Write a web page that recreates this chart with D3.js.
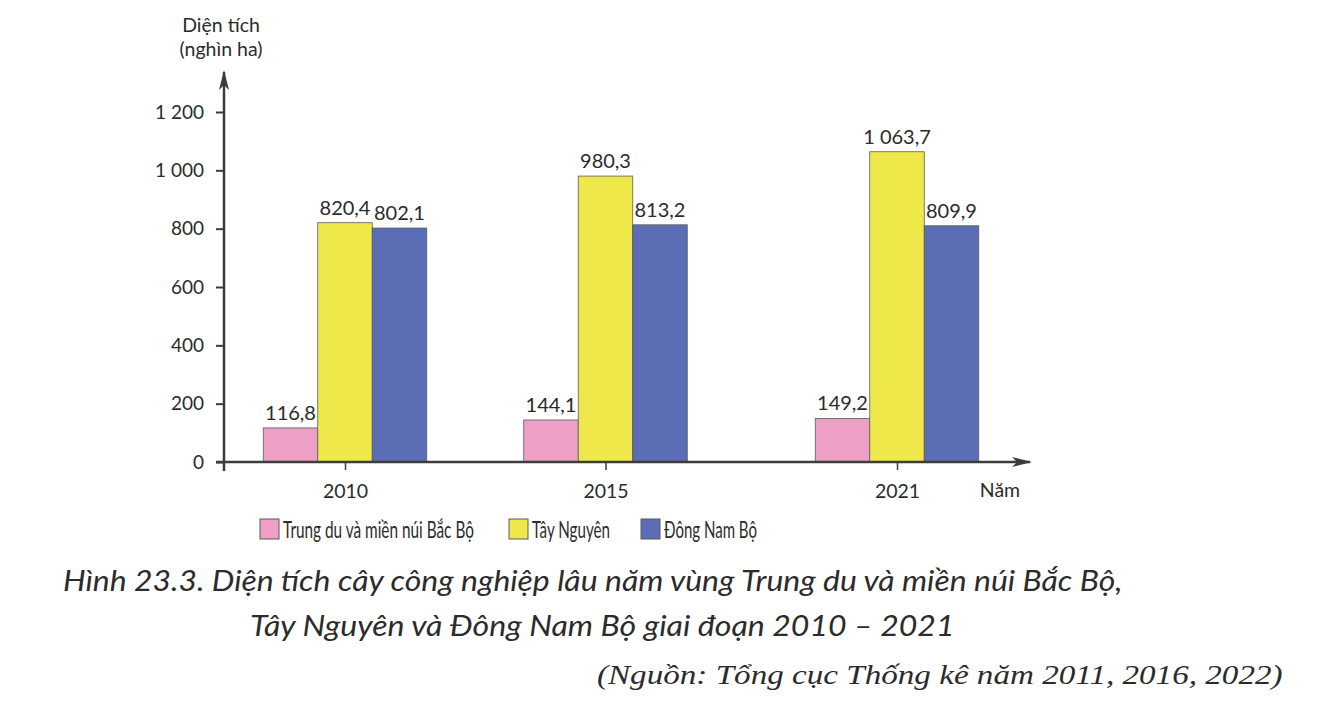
<!DOCTYPE html>
<html><head><meta charset="utf-8">
<script src="https://cdn.jsdelivr.net/npm/d3@7"></script>
<style>
html,body{margin:0;padding:0;background:#fff;}
svg{display:block;}
text{font-family:Lato,"Noto Sans",sans-serif;fill:#2b2b2b;}
text.serif{font-family:"Liberation Serif","Times New Roman",Times,serif;}
</style></head>
<body>
<svg id="c" width="1318" height="713"></svg>
<script>
const years = ["2010", "2015", "2021"];
const seriesNames = ["Trung du và miền núi Bắc Bộ", "Tây Nguyên", "Đông Nam Bộ"];
const trungDu = [116.8, 144.1, 149.2];
const tayNguyen = [820.4, 980.3, 1063.7];
const dongNamBo = [802.1, 813.2, 809.9];
const yTicks = [0, 200, 400, 600, 800, 1000, 1200];
const colors = ["#ee9fc5", "#efe84a", "#5b6eb5"];
const yTitle = ["Diện tích", "(nghìn ha)"];
const xTitle = "Năm";
const caption1 = "Hình 23.3. Diện tích cây công nghiệp lâu năm vùng Trung du và miền núi Bắc Bộ,";
const caption2 = "Tây Nguyên và Đông Nam Bộ giai đoạn 2010 – 2021";
const source = "(Nguồn: Tổng cục Thống kê năm 2011, 2016, 2022)";

const series = [trungDu, tayNguyen, dongNamBo];
const vi = d3.formatLocale({decimal: ",", thousands: " ", grouping: [3], currency: ["", ""]});
const fmtVal = vi.format(",.1f");
const fmtTick = vi.format(",d");

const svg = d3.select("#c");
const axisColor = "#3c3c3c";

const x0 = 224, yBase = 462;
const y = d3.scaleLinear().domain([0, 1200]).range([yBase, 112]);
const x = d3.scaleLinear().domain(years.map(Number)).range([345, 605.5, 897]);
const bw = 54.5;
const xs = d3.scaleBand().domain(d3.range(series.length)).range([-bw * 1.5, bw * 1.5]).padding(0);

// bars
years.forEach((yr, j) => {
  const g = svg.append("g").attr("transform", `translate(${x(+yr)},0)`);
  series.forEach((s, i) => {
    g.append("rect")
      .attr("x", xs(i)).attr("width", xs.bandwidth())
      .attr("y", y(s[j])).attr("height", y(0) - y(s[j]))
      .attr("fill", colors[i]).attr("stroke", "#5a5a5a").attr("stroke-width", 0.8);
    g.append("text")
      .attr("x", xs(i) + xs.bandwidth() / 2).attr("y", y(s[j]) - 8)
      .attr("text-anchor", "middle").style("font-size", "20px")
      .text(fmtVal(s[j]));
  });
});

// y axis
const yAxis = d3.axisLeft(y).tickValues(yTicks).tickFormat(fmtTick).tickSize(8).tickPadding(12);
const yg = svg.append("g").attr("transform", `translate(${x0},0)`).call(yAxis);
yg.select(".domain").remove();
yg.selectAll(".tick line").attr("stroke", axisColor).attr("stroke-width", 2);
yg.selectAll(".tick text").style("font-size", "19px").style("font-family", "Lato").style("fill", "#2b2b2b");

// x axis
const xAxis = d3.axisBottom(x).tickValues(years.map(Number)).tickFormat(d3.format("d")).tickSize(8).tickPadding(14);
const xg = svg.append("g").attr("transform", `translate(0,${yBase})`).call(xAxis);
xg.select(".domain").remove();
xg.selectAll(".tick line").attr("stroke", axisColor).attr("stroke-width", 1.5);
xg.selectAll(".tick text").style("font-size", "19.5px").style("font-family", "Lato").style("fill", "#2b2b2b");

// axis lines with arrows
const defs = svg.append("defs");
defs.append("marker").attr("id", "arr").attr("viewBox", "0 0 20 10").attr("refX", 18).attr("refY", 5)
  .attr("markerWidth", 20).attr("markerHeight", 10).attr("markerUnits", "userSpaceOnUse").attr("orient", "auto")
  .append("path").attr("d", "M0,0 L20,5 L0,10 L5,5 Z").attr("fill", axisColor);
svg.append("line").attr("x1", x0).attr("x2", x0).attr("y1", yBase + 9).attr("y2", 72)
  .attr("stroke", axisColor).attr("stroke-width", 2.5).attr("marker-end", "url(#arr)");
svg.append("line").attr("x1", x0 - 8).attr("x2", 1030).attr("y1", yBase).attr("y2", yBase)
  .attr("stroke", axisColor).attr("stroke-width", 2.5).attr("marker-end", "url(#arr)");

// axis titles
svg.append("text").attr("x", 221).attr("y", 32).attr("text-anchor", "middle").style("font-size", "19.5px").text(yTitle[0]);
svg.append("text").attr("x", 221).attr("y", 56).attr("text-anchor", "middle").style("font-size", "19.5px").text(yTitle[1]);
svg.append("text").attr("x", 1000).attr("y", 497).attr("text-anchor", "middle").style("font-size", "19.5px").text(xTitle);

// helper: horizontally condensed text fitted to a width
function fitted(tx, ty, width, str, size, cls, italic) {
  const g = svg.append("g");
  const t = g.append("text").attr("x", 0).attr("y", 0).style("font-size", size + "px").text(str);
  if (cls) t.attr("class", cls);
  if (italic) t.style("font-style", "italic");
  const w = t.node().getComputedTextLength();
  g.attr("transform", `translate(${tx},${ty}) scale(${width / w},1)`);
  return g;
}

// legend
const legX = [260, 509, 641];
const legW = [191, 78, 93];
seriesNames.forEach((n, i) => {
  svg.append("rect").attr("x", legX[i]).attr("y", 519).attr("width", 19).attr("height", 20)
    .attr("fill", colors[i]).attr("stroke", "#5a5a5a").attr("stroke-width", 1);
  fitted(legX[i] + 23, 538, legW[i], n, 23, null, false);
});

// caption
fitted(63, 591, 1060, caption1, 29, null, true);
fitted(250, 636, 705, caption2, 29, null, true);
fitted(597, 684, 686, source, 28, "serif", true);
</script>
</body></html>
